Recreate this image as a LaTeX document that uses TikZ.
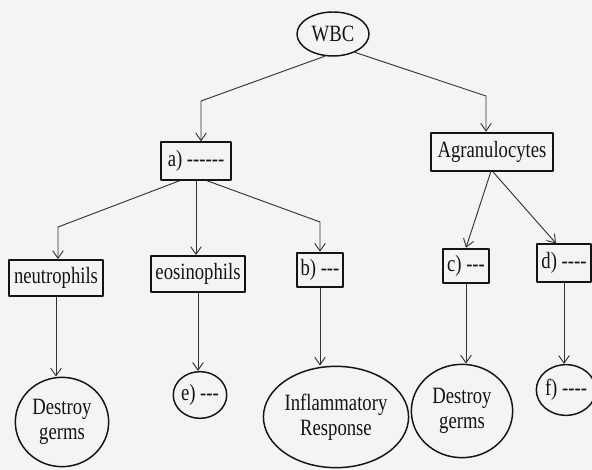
\documentclass[tikz,border=0pt]{standalone}
\usepackage{fontspec}
\setmainfont{Liberation Serif}[FakeStretch=0.8]
\definecolor{wbcink}{HTML}{141414}
\definecolor{wbclink}{HTML}{333333}
\definecolor{wbcpaper}{HTML}{F4F4F4}
\usetikzlibrary{arrows.meta,shapes.geometric}

\begin{document}
\begin{tikzpicture}[
  x=0.75pt,
  y=-0.75pt,
  line join=round,
  font=\fontsize{17.5}{19}\selectfont,
  cellbox/.style={draw=wbcink,line width=1.4pt,rectangle,inner sep=0pt,text=wbcink},
  bubble/.style={draw=wbcink,line width=1.1pt,ellipse,inner sep=0pt,align=center,text=wbcink},
  link/.style={draw=wbclink,line width=0.7pt,-{Straight Barb[length=2mm,width=2.8mm]}}
]
  % Page of the scan, one unit is one pixel of the reference.
  \fill[wbcpaper] (0,0) rectangle (592,470);
  \useasboundingbox (0,0) rectangle (592,470);

  % Root and the two main groups.
  \node[bubble,minimum width=54pt,minimum height=33pt] (wbc) at (333,34) {WBC};
  \node[cellbox,minimum width=52pt,minimum height=28pt] (granu) at (196,161) {a) -{}-{}-{}-{}-{}-};
  \node[cellbox,minimum width=91pt,minimum height=29pt] (agranu) at (492,152) {Agranulocytes};

  % Second row of cell types.
  \node[cellbox,minimum width=71pt,minimum height=27pt] (neutro) at (56,278) {neutrophils};
  \node[cellbox,minimum width=70pt,minimum height=27pt] (eosino) at (198,274) {eosinophils};
  \node[cellbox,minimum width=35pt,minimum height=26pt] (bbox) at (320,270) {b) -{}-{}-};
  \node[cellbox,minimum width=35pt,minimum height=26pt] (cbox) at (466,266) {c) -{}-{}-};
  \node[cellbox,minimum width=40pt,minimum height=28pt] (dbox) at (564,263) {d) -{}-{}-{}-};

  % Functions in the bottom row.
  \node[bubble,minimum width=70pt,minimum height=67pt] (destroya) at (62,422) {Destroy\\germs};
  \node[bubble,minimum width=40pt,minimum height=35pt] (ecirc) at (200,395) {e) -{}-{}-};
  \node[bubble,minimum width=91pt,minimum height=76pt] (inflam) at (336,417) {Inflammatory\\Response};
  \node[bubble,minimum width=76pt,minimum height=70pt] (destroyb) at (462,411) {Destroy\\germs};
  \node[bubble,minimum width=38pt,minimum height=38pt] (fcirc) at (566,390) {f) -{}-{}-{}-};

  % Elbows of the bent connectors.
  \coordinate (c1) at (201,101);
  \coordinate (c2) at (486,96);
  \coordinate (c3) at (58,227);
  \coordinate (c4) at (320,222);

  \draw[link] (wbc.250) -- (c1) -- (c1 |- granu.north);
  \draw[link] (wbc.-40) -- (c2) -- (c2 |- agranu.north);

  \draw[link] ([xshift=-12pt]granu.south) -- (c3) -- (c3 |- neutro.north);
  \draw[link] (granu.south) -- (granu.south |- eosino.north);
  \draw[link] ([xshift=8pt]granu.south) -- (c4) -- (c4 |- bbox.north);

  \draw[link] ([xshift=-1pt]agranu.south) -- (cbox.north);
  \draw[link] ([xshift=1pt]agranu.south) -- ([xshift=-6pt]dbox.north);

  % Straight drops to the functions.
  \draw[link] (neutro.south) -- (neutro.south |- destroya.north);
  \draw[link] (eosino.south) -- (eosino.south |- ecirc.north);
  \draw[link] (bbox.south) -- (bbox.south |- inflam.north);
  \draw[link] (cbox.south) -- (cbox.south |- destroyb.north);
  \draw[link] (dbox.south) -- (dbox.south |- fcirc.north);
\end{tikzpicture}
\end{document}
